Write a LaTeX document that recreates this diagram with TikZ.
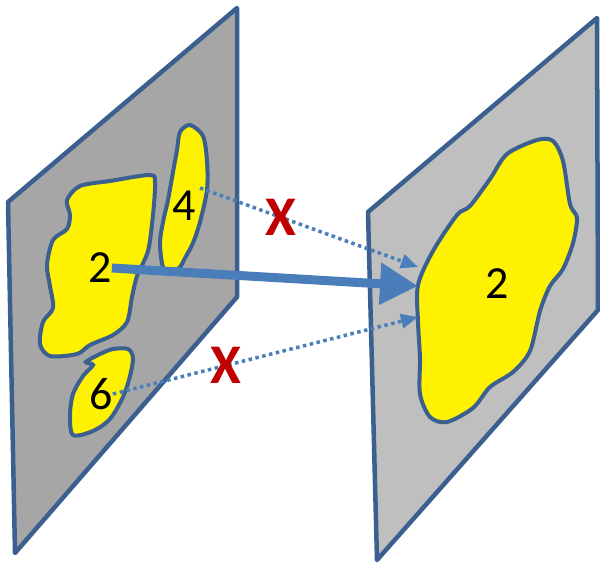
\documentclass[tikz,border=0pt]{standalone}
\usepackage{fontspec}
\setmainfont{Carlito}
\usetikzlibrary{arrows.meta}
\definecolor{edgeblue}{HTML}{3B6090}
\definecolor{arrowblue}{HTML}{4A7EBB}
\definecolor{crossred}{HTML}{C00000}
\definecolor{planedark}{HTML}{A6A6A6}
\definecolor{planelight}{HTML}{BFBFBF}

\begin{document}
\begin{tikzpicture}[x=1pt, y=-1pt,
  plane/.style={draw=edgeblue, line width=4.5pt, line join=round},
  blob/.style={draw=edgeblue, fill=yellow, line width=4pt},
  num/.style={font=\fontsize{46}{50}\selectfont, inner sep=0pt},
  cross/.style={font=\fontsize{56}{60}\selectfont\bfseries, text=crossred, inner sep=0pt},
  link/.style={draw=arrowblue, line width=3.5pt, dash pattern=on 3.5pt off 3.5pt, -{Triangle[length=17pt, width=14pt]}}]

\useasboundingbox (0,0) rectangle (600,563);

% Left plane
\draw[plane, fill=planedark] (8,202) -- (237,8) -- (237,297) -- (15,553) -- cycle;
\draw[blob] plot[smooth cycle, tension=0.5] coordinates {(67,200) (80,186) (110,181) (150,175) (155,183) (153,215) (148,251) (137,276) (132,297) (127,322) (113,335) (90,345) (77,354) (50,356) (40,344) (43,322) (53,308) (50,286) (47,265) (53,240) (67,229) (70,215)};
\draw[blob] plot[smooth cycle, tension=0.5] coordinates {(190,125) (203,136) (207,161) (207,190) (200,222) (193,243) (185,258) (180,267) (172,272) (163,267) (160,243) (163,222) (168,200) (173,172) (177,150) (180,132)};
\draw[blob] plot[smooth cycle, tension=0.5] coordinates {(113,349) (128,349) (133,358) (130,376) (123,397) (110,419) (93,431) (73,435) (70,415) (73,394) (83,376) (93,365) (86,362) (100,354)};
\node[num] (l2) at (100,268) {2};
\node[num] (l4) at (184,206) {4};
\node[num] (l6) at (101,394) {6};

% Right plane
\draw[plane, fill=planelight] (368,212) -- (597,18) -- (598,310) -- (377,560) -- cycle;
\draw[blob] plot[smooth cycle, tension=0.5] coordinates {(418,285) (433,251) (457,215) (470,206) (490,179) (507,154) (537,140) (553,141) (563,161) (570,204) (577,218) (573,243) (563,269) (550,286) (540,311) (530,351) (513,372) (490,387) (473,408) (447,422) (430,417) (420,394) (420,358) (418,322)};
\node[num] (r2) at (497,284) {2};

% Arrows
\coordinate (src4) at (200,188);
\coordinate (hit) at (418,286);
\coordinate (hitup) at (418,267);
\coordinate (hitdn) at (418,317);
\draw[arrowblue, line width=9pt, -{Triangle[length=38pt, width=40pt]}] (l2.east) -- (hit);
\draw[link] (src4) -- (hitup) node[cross, pos=0.37] (xup) {X};
\draw[link] (l6.east) -- (hitdn) node[cross, pos=0.37] (xdn) {X};

\end{tikzpicture}
\end{document}
